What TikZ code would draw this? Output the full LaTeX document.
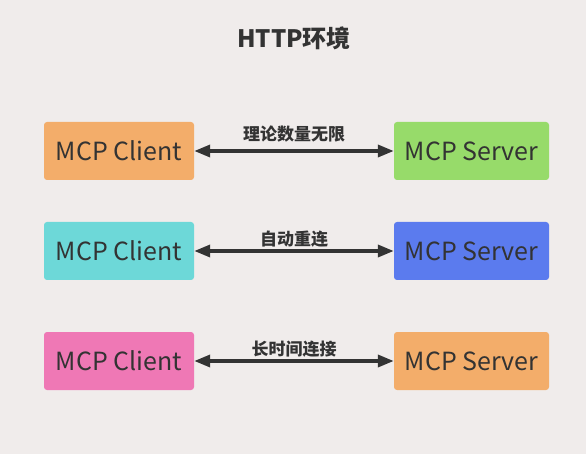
\documentclass[tikz,border=0pt]{standalone}
\usepackage{fontspec}
\setmainfont{Noto Sans CJK SC}
\usetikzlibrary{arrows.meta}
\definecolor{bg}{HTML}{F0ECEB}
\definecolor{txt}{HTML}{333333}
\definecolor{cOrange}{HTML}{F3AD6A}
\definecolor{cGreen}{HTML}{97DB6A}
\definecolor{cCyan}{HTML}{6DD8D8}
\definecolor{cBlue}{HTML}{5B7BEE}
\definecolor{cPink}{HTML}{EF78B5}
\begin{document}
\begin{tikzpicture}[x=1pt,y=-1pt,
  box/.style={rounded corners=3pt, minimum width=150pt, minimum height=58pt, inner sep=0pt, text=txt, font=\fontsize{25}{28}\selectfont},
  link/.style={line width=3.5pt, draw=txt, {Triangle[length=16pt,width=12pt]}-{Triangle[length=16pt,width=12pt]}},
  lab/.style={text=txt, font=\bfseries\fontsize{17}{19}\selectfont, inner sep=0pt}]
\fill[bg] (0,0) rectangle (586,454);
\useasboundingbox (0,0) rectangle (586,454);
\node[text=txt, font=\bfseries\fontsize{24}{26}\selectfont] (title) at (294,38) {HTTP环境};
\node[box, fill=cOrange] (c1) at (119,151) {MCP Client};
\node[box, fill=cGreen, minimum width=155pt] (s1) at (471.5,151) {MCP Server};
\node[box, fill=cCyan] (c2) at (119,251) {MCP Client};
\node[box, fill=cBlue, minimum width=155pt] (s2) at (471.5,251) {MCP Server};
\node[box, fill=cPink] (c3) at (119,361) {MCP Client};
\node[box, fill=cOrange, minimum width=155pt] (s3) at (471.5,361) {MCP Server};
\draw[link] (c1) -- (s1) node[midway, lab, yshift=17pt] (l1) {理论数量无限};
\draw[link] (c2) -- (s2) node[midway, lab, yshift=12pt] (l2) {自动重连};
\draw[link] (c3) -- (s3) node[midway, lab, yshift=12pt] (l3) {长时间连接};
\end{tikzpicture}
\end{document}
